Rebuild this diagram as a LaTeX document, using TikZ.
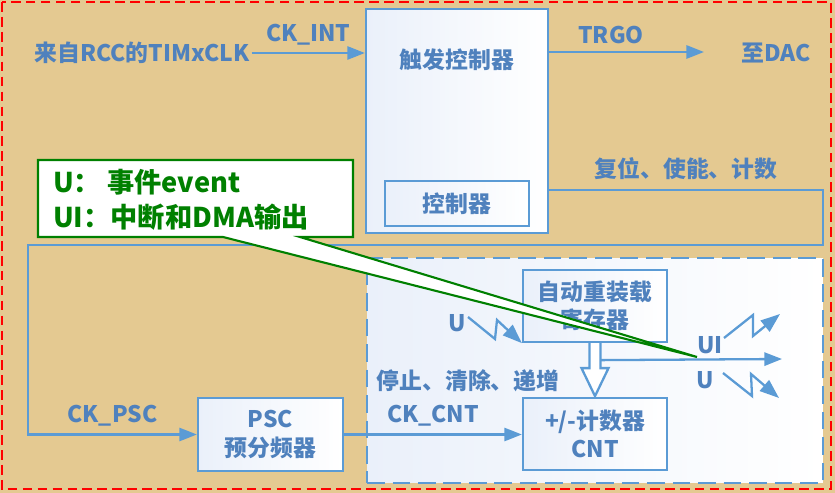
\documentclass[tikz,border=0pt]{standalone}
\usepackage{fontspec}
\usepackage{tikz}
\usetikzlibrary{arrows.meta, positioning, calc}
\newfontfamily\cjk{Noto Sans CJK SC}
\definecolor{bgtan}{RGB}{228,201,145}
\definecolor{lineblue}{RGB}{91,155,213}
\definecolor{txtblue}{RGB}{79,129,189}
\definecolor{boxtint}{RGB}{234,240,250}
\definecolor{notegreen}{RGB}{0,128,0}
\tikzset{
  blk/.style={rectangle, draw=lineblue, line width=1.3pt,
    left color=boxtint, right color=white, align=center,
    font=\cjk\bfseries\fontsize{13}{16}\selectfont, text=txtblue, inner sep=0pt},
  zone/.style={rectangle, draw=lineblue, line width=1.3pt,
    dash pattern=on 10pt off 4.5pt, left color=boxtint, right color=white},
  lbl/.style={font=\cjk\bfseries\fontsize{13}{16}\selectfont, text=txtblue, inner sep=1pt},
  sig/.style={-{Triangle[length=10pt,width=7.5pt]}, draw=lineblue, line width=1.3pt},
  wire/.style={draw=lineblue, line width=1.3pt},
  bolt/.style={-{Triangle[length=11pt,width=8pt]}, draw=lineblue, line width=1.3pt},
  notebox/.style={draw=notegreen, line width=1.2pt, fill=white},
  notetext/.style={text=notegreen, align=left,
    font=\cjk\bfseries\fontsize{15.5}{20}\selectfont}
}

\begin{document}
\begin{tikzpicture}[x=0.02cm, y=-0.02cm]
  % background and outer frame
  \fill[bgtan] (0,0) rectangle (835,493);
  \draw[red, line width=1.2pt, dash pattern=on 5.5pt off 3pt] (2,2) rectangle (831,489);

  % counter zone
  \node[zone, minimum width=9.12cm, minimum height=4.5cm] (cntzone) at (595,370.5) {};

  % blocks
  \node[blk, minimum width=3.64cm, minimum height=4.48cm] (trig) at (457,121) {};
  \node[lbl] (trigtxt) at (457,60) {触发控制器};
  \node[blk, minimum width=2.88cm, minimum height=0.9cm] (ctrl) at (457,203.5) {控制器};
  \node[blk, minimum width=2.9cm, minimum height=1.46cm] (psc) at (270.5,434.5) {PSC\\预分频器};
  \node[blk, minimum width=2.88cm, minimum height=1.44cm] (arr) at (595,306) {自动重装载\\寄存器};
  \node[blk, minimum width=2.88cm, minimum height=1.44cm] (cnt) at (595,434) {+/-计数器\\CNT};

  % clock input
  \node[lbl] (rcc) at (142,53) {来自RCC的TIMxCLK};
  \draw[sig] (rcc.east) -- (rcc.east -| trig.west)
    node[lbl, midway, above=3pt] (ckint) {CK\_INT};

  % trigger output
  \coordinate (trgoend) at (704,52);
  \node[lbl] (dac) at (776,53) {至DAC};
  \draw[sig] (trig.east |- trgoend) -- (trgoend)
    node[lbl, pos=0.4, above=3pt] (trgo) {TRGO};

  % control loop to prescaler
  \coordinate (loopr) at (823,190);
  \coordinate (loopa) at (823,245);
  \coordinate (loopb) at (28,245);
  \draw[sig] (trig.east |- loopr) -- (loopr)
    node[lbl, midway, above=4pt] (ctltxt) {复位、使能、计数}
    -- (loopa) -- (loopb) -- (loopb |- psc.west) -- (psc.west)
    node[lbl, midway, above=3pt] (ckpsc) {CK\_PSC};

  % prescaler to counter
  \draw[sig] (psc.east) -- (psc.east -| cnt.west)
    node[lbl, midway, above=3pt] (ckcnt) {CK\_CNT};
  \node[lbl] (stoptxt) at (468,381) {停止、清除、递增};

  % hollow arrow, reload register to counter
  \draw[wire, fill=white] ([shift={(-5.5,0)}]arr.south) -- ++(0,25) -- ++(-8,0)
    -- ++(13.5,28) -- ++(13.5,-28) -- ++(-8,0) -- ++(0,-25);

  % update outputs
  \coordinate (uiend) at (782,359);
  \draw[sig] ([shift={(5.5,17)}]arr.south) -- (uiend);
  \node[lbl] (uilbl) at (710,345) {UI};
  \node[lbl] (ulbl) at (705,380) {U};
  \node[lbl] (uin) at (457,323) {U};
  \draw[bolt] (724,338) -- (753,315) -- (753,336) -- (780,314);
  \draw[bolt] (723,373) -- (752,396) -- (751,374) -- (779,398);
  \draw[bolt] (468,317) -- (495,339) -- (497,320) -- (arr.south west);

  % callout
  \draw[notebox] (38,160) -- (353,160) -- (353,237) -- (300,237) -- (697,357)
    -- (223,237) -- (38,237) -- cycle;
  \node[notetext, anchor=west] (note) at (47,200) {U： 事件event\\UI：中断和DMA输出};
\end{tikzpicture}
\end{document}
